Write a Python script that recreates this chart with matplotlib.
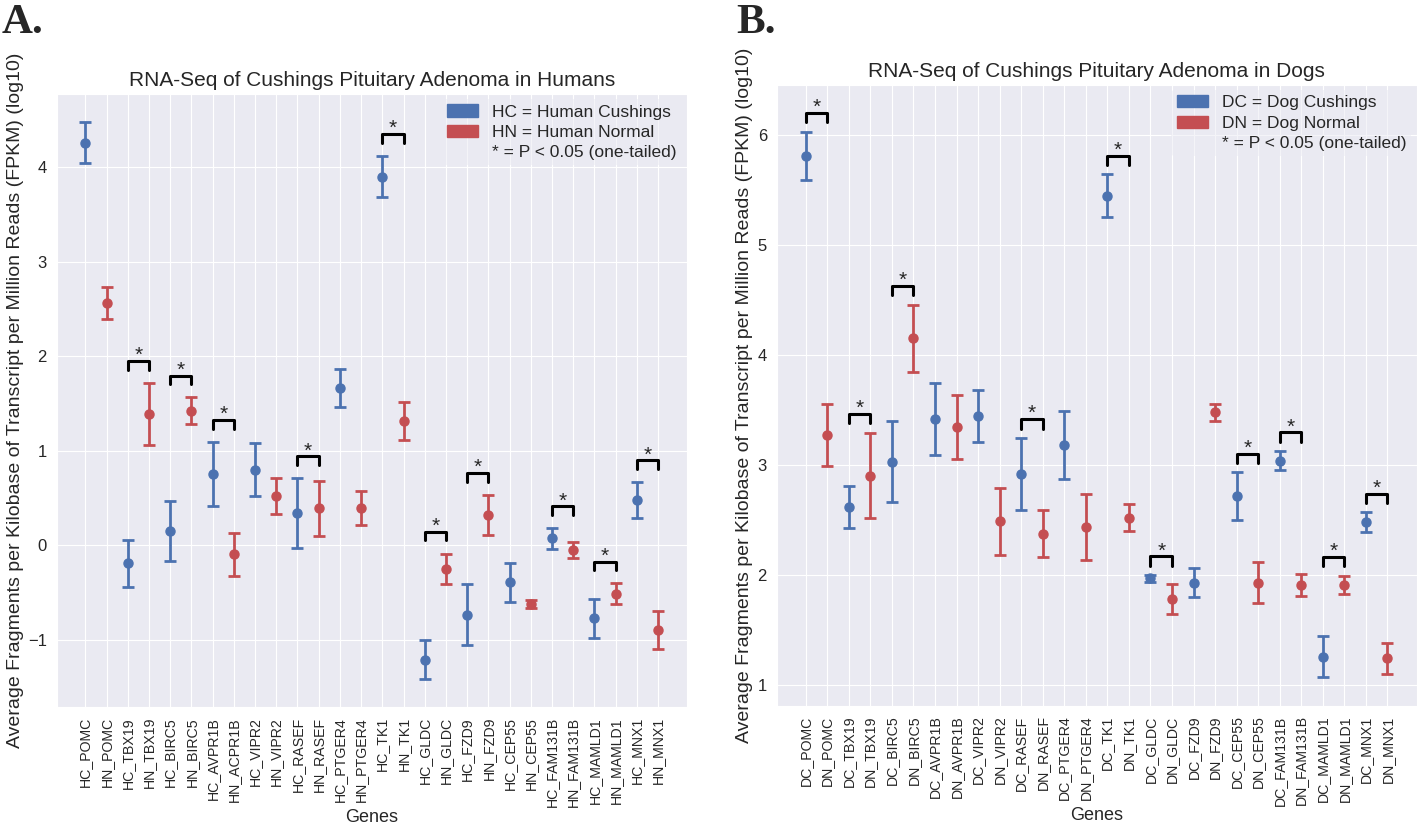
import matplotlib.pyplot as plt
from matplotlib.patches import Patch
import seaborn as sns

sns.set_style('darkgrid')
plt.rcParams['font.family'] = ['Liberation Sans', 'DejaVu Sans']

BLUE = '#4C72B0'
RED = '#C44E52'

# human data (log10 FPKM), cushings / normal alternating per gene
human_labels = ['HC_POMC', 'HN_POMC', 'HC_TBX19', 'HN_TBX19', 'HC_BIRC5', 'HN_BIRC5',
                'HC_AVPR1B', 'HN_ACPR1B', 'HC_VIPR2', 'HN_VIPR2', 'HC_RASEF', 'HN_RASEF',
                'HC_PTGER4', 'HN_PTGER4', 'HC_TK1', 'HN_TK1', 'HC_GLDC', 'HN_GLDC',
                'HC_FZD9', 'HN_FZD9', 'HC_CEP55', 'HN_CEP55', 'HC_FAM131B', 'HN_FAM131B',
                'HC_MAMLD1', 'HN_MAMLD1', 'HC_MNX1', 'HN_MNX1']
human_mean = [4.26, 2.56, -0.19, 1.39, 0.155, 1.425, 0.755, -0.095, 0.80, 0.526,
              0.342, 0.395, 1.665, 0.395, 3.90, 1.316, -1.206, -0.247, -0.73, 0.325,
              -0.39, -0.617, 0.074, -0.046, -0.772, -0.511, 0.48, -0.892]
human_err = [0.22, 0.17, 0.245, 0.33, 0.32, 0.14, 0.34, 0.23, 0.28, 0.19,
             0.37, 0.29, 0.20, 0.18, 0.22, 0.20, 0.21, 0.16, 0.32, 0.21,
             0.21, 0.045, 0.11, 0.085, 0.21, 0.11, 0.19, 0.20]
# one flag per gene pair
human_sig = [False, True, True, True, False, True, False, True, True, True,
             False, True, True, True]

# dog data
dog_labels = ['DC_POMC', 'DN_POMC', 'DC_TBX19', 'DN_TBX19', 'DC_BIRC5', 'DN_BIRC5',
              'DC_AVPR1B', 'DN_AVPR1B', 'DC_VIPR2', 'DN_VIPR2', 'DC_RASEF', 'DN_RASEF',
              'DC_PTGER4', 'DN_PTGER4', 'DC_TK1', 'DN_TK1', 'DC_GLDC', 'DN_GLDC',
              'DC_FZD9', 'DN_FZD9', 'DC_CEP55', 'DN_CEP55', 'DC_FAM131B', 'DN_FAM131B',
              'DC_MAMLD1', 'DN_MAMLD1', 'DC_MNX1', 'DN_MNX1']
dog_mean = [5.81, 3.273, 2.618, 2.906, 3.033, 4.155, 3.419, 3.346, 3.45, 2.49,
            2.918, 2.378, 3.18, 2.44, 5.448, 2.524, 1.971, 1.786, 1.932, 3.48,
            2.72, 1.932, 3.042, 1.91, 1.258, 1.91, 2.48, 1.246]
dog_err = [0.22, 0.285, 0.19, 0.39, 0.37, 0.305, 0.33, 0.29, 0.235, 0.305,
           0.33, 0.21, 0.31, 0.30, 0.195, 0.12, 0.03, 0.135, 0.13, 0.08,
           0.215, 0.185, 0.085, 0.10, 0.187, 0.085, 0.09, 0.14]
dog_sig = [True, True, True, False, False, True, False, True, True, False,
           True, True, True, True]


def draw_panel(ax, labels, mean, err, sig, title, legend_names, offset, leg):
    x = list(range(len(labels)))
    for i in x:
        color = BLUE if i % 2 == 0 else RED
        ax.errorbar(x[i], mean[i], yerr=err[i], fmt='o', color=color,
                    markersize=6.5, elinewidth=2, capsize=4, capthick=2)
    for k, s in enumerate(sig):
        if not s:
            continue
        a, b = 2 * k, 2 * k + 1
        h = max(mean[a] + err[a], mean[b] + err[b]) + offset
        ax.plot([x[a], x[a], x[b], x[b]], [h - leg, h, h, h - leg],
                color='black', lw=2.2)
        ax.text((x[a] + x[b]) / 2, h, '*', ha='center', va='baseline',
                fontsize=15, color='#262626')
    ax.set_xticks(x)
    ax.set_xticklabels(labels, rotation=90, fontsize=10.2)
    ax.tick_params(axis='y', labelsize=12)
    ax.set_title(title, fontsize=15)
    ax.set_xlabel('Genes', fontsize=13, labelpad=1)
    ax.set_ylabel('Average Fragments per Kilobase of Transcript per Million Reads (FPKM) (log10)',
                  fontsize=14, labelpad=3)
    handles = [Patch(color=BLUE, label=legend_names[0]),
               Patch(color=RED, label=legend_names[1]),
               Patch(visible=False, label='* = P < 0.05 (one-tailed)')]
    ax.legend(handles=handles, loc='upper right', fontsize=12.5, frameon=True,
              framealpha=0.5, edgecolor='none', handlelength=1.8,
              labelspacing=0.3, borderpad=0.3, borderaxespad=0.3)


fig = plt.figure(figsize=(14.18, 8.38), dpi=100)
ax1 = fig.add_axes([0.040, 0.156, 0.4443, 0.7319])
ax2 = fig.add_axes([0.5477, 0.158, 0.4513, 0.7407])

draw_panel(ax1, human_labels, human_mean, human_err, human_sig,
           'RNA-Seq of Cushings Pituitary Adenoma in Humans',
           ['HC = Human Cushings', 'HN = Human Normal'], 0.23, 0.09)
draw_panel(ax2, dog_labels, dog_mean, dog_err, dog_sig,
           'RNA-Seq of Cushings Pituitary Adenoma in Dogs',
           ['DC = Dog Cushings', 'DN = Dog Normal'], 0.17, 0.085)

fig.text(0.001, 0.995, 'A.', fontsize=31, fontweight='bold', family='Liberation Serif',
         va='top', ha='left')
fig.text(0.519, 0.995, 'B.', fontsize=31, fontweight='bold', family='Liberation Serif',
         va='top', ha='left')

fig.savefig('out.png', dpi=100)
